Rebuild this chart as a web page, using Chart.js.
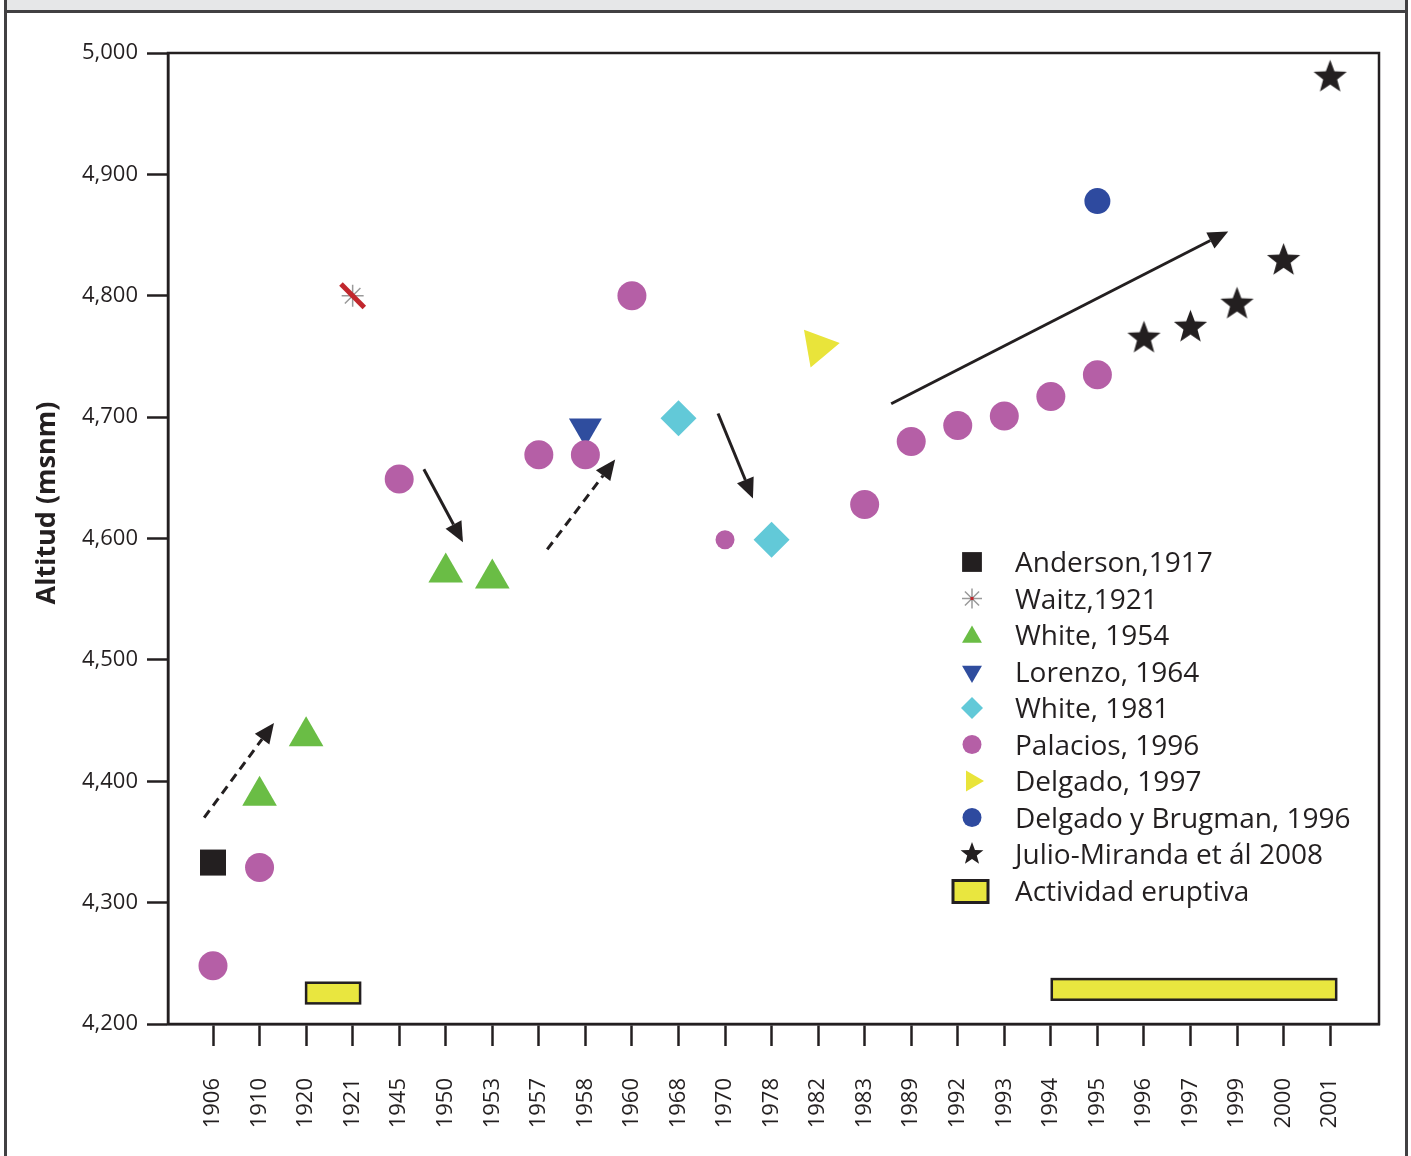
<!DOCTYPE html>
<html>
<head>
<meta charset="utf-8">
<script src="https://cdn.jsdelivr.net/npm/chart.js@4.4.1/dist/chart.umd.min.js"></script>
<style>
  html, body { margin:0; padding:0; background:#fff; }
  #frame { position:absolute; left:4px; top:0; width:1398px; height:1156px;
           border-left:3px solid #414042; border-right:3px solid #414042; }
  #band { height:10px; background:#e6e7e8; border-bottom:3px solid #414042; }
  #chart { position:absolute; left:0; top:0; }
</style>
</head>
<body>
<div id="frame"><div id="band"></div></div>
<canvas id="chart" width="1411" height="1156"></canvas>
<script>
/* Altitud del glaciar / fuente */
const years = ['1906','1910','1920','1921','1945','1950','1953','1957','1958','1960','1968','1970','1978','1982','1983','1989','1992','1993','1994','1995','1996','1997','1999','2000','2001'];
const yTicks = [4200, 4300, 4400, 4500, 4600, 4700, 4800, 4900, 5000];

const andersonYears = ['1906'];
const andersonAlt   = [4333];
const waitzYears    = ['1921'];
const waitzAlt      = [4800];
const white54Years  = ['1910','1920','1950','1953'];
const white54Alt    = [4388, 4437, 4572, 4567];
const lorenzoYears  = ['1958'];
const lorenzoAlt    = [4691];
const white81Years  = ['1968','1978'];
const white81Alt    = [4699, 4599];
const palaciosYears = ['1906','1910','1945','1957','1958','1960','1970','1983','1989','1992','1993','1994','1995'];
const palaciosAlt   = [4248, 4329, 4649, 4669, 4669, 4800, 4599, 4628, 4680, 4693, 4701, 4717, 4735];
const delgadoYears  = ['1982'];
const delgadoAlt    = [4758];
const brugmanYears  = ['1995'];
const brugmanAlt    = [4878];
const julioYears    = ['1996','1997','1999','2000','2001'];
const julioAlt      = [4765, 4774, 4793, 4829, 4980];

// actividad eruptiva (posicion en el eje de anos, altitud)
const eruptionStart  = [2.0, 18.02];
const eruptionEnd    = [3.16, 24.13];
const eruptionTop    = [4234, 4237];
const eruptionBottom = [4217, 4220];

// flechas
const arrowX0 = [-0.19, 4.53, 7.18, 10.85, 14.57];
const arrowY0 = [4370, 4657, 4591, 4703, 4711];
const arrowX1 = [1.31, 5.37, 8.64, 11.6, 21.81];
const arrowY1 = [4448, 4597, 4665, 4633, 4853];
const arrowDashed = [true, false, true, false, false];

const INK = '#231f20';
const FONT = "'Open Sans', 'Noto Sans', sans-serif";

function pts(ys, vals){ return ys.map((yr,i)=>({x: years.indexOf(yr), y: vals[i]})); }

function makeStar(R, color){
  const s = Math.ceil(R*2)+2, c = document.createElement('canvas');
  c.width = s; c.height = s;
  const g = c.getContext('2d'), r = R*0.42;
  g.fillStyle = color; g.beginPath();
  for(let k=0;k<10;k++){
    const a = -Math.PI/2 + k*Math.PI/5, rr = k%2 ? r : R;
    g.lineTo(s/2 + rr*Math.cos(a), s/2 + rr*Math.sin(a));
  }
  g.closePath(); g.fill();
  return c;
}
const starBig = makeStar(17.5, INK);
const starSmall = makeStar(12, INK);

const datasets = [
  { label:'Anderson,1917', data:pts(andersonYears, andersonAlt), pointStyle:'rect', pointRadius:18.4,
    backgroundColor:INK, borderWidth:0, order:1, lg:{r:14} },
  { label:'Waitz,1921', data:pts(waitzYears, waitzAlt), pointStyle:'star', pointRadius:11,
    backgroundColor:'#999', borderColor:'#9a9a9a', borderWidth:1.5, order:3, lg:{r:10, lw:1.5, dot:true} },
  { label:'White, 1954', data:pts(white54Years, white54Alt), pointStyle:'triangle', pointRadius:20,
    backgroundColor:'#6abd45', borderWidth:0, order:4, lg:{r:11.5} },
  { label:'Lorenzo, 1964', data:pts(lorenzoYears, lorenzoAlt), pointStyle:'triangle', rotation:180, pointRadius:19,
    backgroundColor:'#2f4d9e', borderWidth:0, order:6, lg:{r:11.5} },
  { label:'White, 1981', data:pts(white81Years, white81Alt), pointStyle:'rectRot', pointRadius:18,
    backgroundColor:'#62c9d8', borderWidth:0, order:4, lg:{r:11} },
  { label:'Palacios, 1996', data:pts(palaciosYears, palaciosAlt), pointStyle:'circle',
    pointRadius: c => palaciosYears[c.dataIndex]==='1970' ? 9.5 : 14.5,
    backgroundColor:'#b55fa6', borderWidth:0, order:2, lg:{r:9.5} },
  { label:'Delgado, 1997', data:pts(delgadoYears, delgadoAlt), pointStyle:'triangle', rotation:80, pointRadius:22,
    backgroundColor:'#e9e43a', borderWidth:0, order:4, lg:{r:12, rot:90} },
  { label:'Delgado y Brugman, 1996', data:pts(brugmanYears, brugmanAlt), pointStyle:'circle', pointRadius:13,
    backgroundColor:'#2e4a9f', borderWidth:0, order:4, lg:{r:9.5} },
  { label:'Julio-Miranda et ál 2008', data:pts(julioYears, julioAlt), pointStyle:starBig, pointRadius:18,
    backgroundColor:INK, borderWidth:0, order:4, lg:{img:starSmall} },
  // trazo rojo sobre el punto de Waitz
  { label:'_waitzMark', data:pts(waitzYears, waitzAlt), pointStyle:'line', rotation:45, pointRadius:16.5,
    borderColor:'#c1272d', borderWidth:5, order:0, hideLegend:true }
];
datasets.forEach(d => { d.showLine = false; d.pointHoverRadius = d.pointRadius; });

function drawArrow(ctx, x0, y0, x1, y1, dashed){
  const a = Math.atan2(y1-y0, x1-x0), hl = 20, hw = 9;
  const bx = x1 - hl*Math.cos(a), by = y1 - hl*Math.sin(a);
  ctx.save();
  ctx.strokeStyle = INK; ctx.fillStyle = INK; ctx.lineWidth = 3;
  ctx.setLineDash(dashed ? [9, 6] : []);
  ctx.beginPath(); ctx.moveTo(x0, y0); ctx.lineTo(bx, by); ctx.stroke();
  ctx.setLineDash([]);
  ctx.beginPath();
  ctx.moveTo(x1, y1);
  ctx.lineTo(bx + hw*Math.sin(a), by - hw*Math.cos(a));
  ctx.lineTo(bx - hw*Math.sin(a), by + hw*Math.cos(a));
  ctx.closePath(); ctx.fill();
  ctx.restore();
}

const decor = {
  id:'decor',
  beforeDatasetsDraw(chart){
    const {ctx, scales:{x, y}} = chart;
    ctx.save();
    eruptionStart.forEach((s, i) => {
      const x0 = x.getPixelForValue(s), x1 = x.getPixelForValue(eruptionEnd[i]);
      const y0 = y.getPixelForValue(eruptionTop[i]), y1 = y.getPixelForValue(eruptionBottom[i]);
      ctx.fillStyle = '#e9e63f'; ctx.fillRect(x0, y0, x1-x0, y1-y0);
      ctx.strokeStyle = INK; ctx.lineWidth = 2.5; ctx.strokeRect(x0, y0, x1-x0, y1-y0);
    });
    ctx.restore();
  },
  afterDatasetsDraw(chart){
    const {ctx, scales:{x, y}} = chart;
    arrowX0.forEach((v, i) => drawArrow(ctx,
      x.getPixelForValue(v), y.getPixelForValue(arrowY0[i]),
      x.getPixelForValue(arrowX1[i]), y.getPixelForValue(arrowY1[i]), arrowDashed[i]));
  },
  afterDraw(chart){
    const {ctx, chartArea:a} = chart;
    ctx.save();
    ctx.strokeStyle = INK; ctx.lineWidth = 2.5;
    ctx.strokeRect(a.left, a.top, a.right - a.left, a.bottom - a.top);

    // titulo del eje y
    ctx.translate(47, 503); ctx.rotate(-Math.PI/2);
    ctx.fillStyle = INK; ctx.font = "bold 27px " + FONT;
    ctx.textAlign = 'center'; ctx.textBaseline = 'middle';
    ctx.fillText('Altitud (msnm)', 0, 0);
    ctx.restore();

    // leyenda
    ctx.save();
    const mx = 972, tx = 1015, y0 = 562, dy = 36.5;
    ctx.font = "28px " + FONT; ctx.textBaseline = 'alphabetic'; ctx.textAlign = 'left';
    let row = 0;
    chart.data.datasets.forEach(d => {
      if (d.hideLegend) return;
      const cy = y0 + row*dy, lg = d.lg;
      ctx.fillStyle = d.backgroundColor; ctx.strokeStyle = d.borderColor || d.backgroundColor;
      ctx.lineWidth = lg.lw || 0;
      Chart.helpers.drawPoint(ctx, {
        pointStyle: lg.img || d.pointStyle, radius: lg.r || 10,
        rotation: lg.rot !== undefined ? lg.rot : (d.rotation || 0),
        borderWidth: lg.lw || 0
      }, mx, cy + (d.pointStyle === 'triangle' && !d.rotation ? 2 : 0));
      if (lg.dot){ ctx.fillStyle = '#c1272d'; ctx.fillRect(mx-1.5, cy-1.5, 3, 3); }
      ctx.fillStyle = INK;
      ctx.fillText(d.label, tx, cy + 10);
      row++;
    });
    const cy = y0 + row*dy + 1;
    ctx.fillStyle = '#e9e63f'; ctx.fillRect(953, cy-11, 35, 22);
    ctx.strokeStyle = INK; ctx.lineWidth = 3; ctx.strokeRect(953, cy-11, 35, 22);
    ctx.fillStyle = INK; ctx.fillText('Actividad eruptiva', tx, cy + 9);
    ctx.restore();
  }
};

new Chart(document.getElementById('chart'), {
  type:'scatter',
  data:{ datasets },
  plugins:[decor],
  options:{
    responsive:false, animation:false, events:[],
    layout:{ padding:{ top:53, right:32, left:0, bottom:0 } },
    plugins:{ legend:{ display:false }, tooltip:{ enabled:false } },
    elements:{ point:{ hitRadius:0 } },
    scales:{
      x:{
        type:'linear', min:-0.967, max:25.05,
        afterBuildTicks: s => { s.ticks = years.map((_, i) => ({ value:i })); },
        afterFit: s => { s.height = 132; },
        grid:{ drawOnChartArea:false, drawTicks:true, tickLength:22, tickWidth:2.5, tickColor:INK },
        border:{ display:true, color:INK, width:2.5 },
        ticks:{ autoSkip:false, minRotation:90, maxRotation:90, padding:32, color:INK,
                font:{ family:FONT, size:22 }, callback: v => years[v] }
      },
      y:{
        min:4200, max:5000,
        afterBuildTicks: s => { s.ticks = yTicks.map(v => ({ value:v })); },
        afterFit: s => { s.width = 168; },
        grid:{ drawOnChartArea:false, drawTicks:true, tickLength:21, tickWidth:2.5, tickColor:INK },
        border:{ display:true, color:INK, width:2.5 },
        ticks:{ padding:9, color:INK, font:{ family:FONT, size:22 },
                callback: v => v.toLocaleString('en-US') }
      }
    }
  }
});
</script>
</body>
</html>
